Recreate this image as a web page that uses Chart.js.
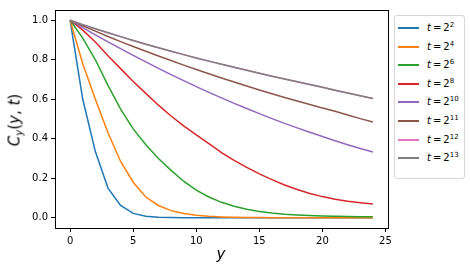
<!DOCTYPE html>
<html>
<head>
<meta charset="utf-8">
<script src="https://cdn.jsdelivr.net/npm/chart.js@4.4.0/dist/chart.umd.min.js"></script>
<style>
  html, body { margin: 0; padding: 0; background: #fff; }
  #wrap { position: relative; width: 470px; height: 272px; font-family: "DejaVu Sans", sans-serif; color: #000; }
  #chart { position: absolute; left: 0; top: 0; }
  #ytitle { position: absolute; left: 15px; top: 120px; transform: translate(-50%, -50%) rotate(-90deg); font-size: 15px; white-space: nowrap; }
  #ytitle sub { font-size: 10px; vertical-align: -3px; }
  #xtitle { position: absolute; left: 221px; top: 254px; transform: translate(-50%, -50%); font-size: 15px; font-style: italic; }
  #legend { position: absolute; left: 394px; top: 15px; width: 71px; height: 164px; border: 1px solid #d6d6d6; border-radius: 3px; background: #fff; box-sizing: border-box; }
  .swatch { position: absolute; left: 3px; width: 21px; height: 2px; }
  .label { position: absolute; left: 32px; font-size: 10px; line-height: 12px; white-space: nowrap; }
  .label sup { font-size: 7px; vertical-align: 4px; line-height: 0; }
</style>
</head>
<body>
<div id="wrap">
  <canvas id="chart" width="470" height="272"></canvas>
  <div id="ytitle"><i>C</i><sub><i>y</i></sub>(<i>y</i>, <i>t</i>)</div>
  <div id="xtitle">y</div>
  <div id="legend"></div>
</div>
<script>
// y positions along the x axis
const yPos = [0, 1, 2, 3, 4, 5, 6, 7, 8, 9, 10, 11, 12, 13, 14, 15, 16, 17, 18, 19, 20, 21, 22, 23, 24];

// C_y(y, t), one array per t
const curveT2  = [1, 0.60, 0.335, 0.150, 0.062, 0.022, 0.008, 0.003, 0.001, 0, 0, 0, 0, 0, 0, 0, 0, 0, 0, 0, 0, 0, 0, 0, 0];
const curveT4  = [1, 0.78, 0.60, 0.43, 0.285, 0.18, 0.105, 0.062, 0.036, 0.021, 0.012, 0.007, 0.004, 0.002, 0.001, 0.001, 0, 0, 0, 0, 0, 0, 0, 0, 0];
const curveT6  = [1, 0.91, 0.80, 0.67, 0.55, 0.45, 0.37, 0.30, 0.24, 0.185, 0.14, 0.105, 0.078, 0.058, 0.043, 0.032, 0.024, 0.018, 0.014, 0.011, 0.009, 0.007, 0.006, 0.005, 0.005];
const curveT8  = [1, 0.95, 0.89, 0.82, 0.755, 0.69, 0.63, 0.57, 0.515, 0.465, 0.42, 0.375, 0.33, 0.29, 0.255, 0.222, 0.193, 0.166, 0.143, 0.123, 0.107, 0.094, 0.083, 0.076, 0.07];
const curveT10 = [1, 0.963, 0.926, 0.891, 0.856, 0.822, 0.789, 0.756, 0.725, 0.694, 0.664, 0.635, 0.607, 0.579, 0.553, 0.527, 0.502, 0.478, 0.455, 0.433, 0.411, 0.39, 0.37, 0.351, 0.333];
const curveT11 = [1, 0.972, 0.945, 0.918, 0.892, 0.867, 0.843, 0.819, 0.796, 0.773, 0.751, 0.729, 0.708, 0.687, 0.667, 0.647, 0.628, 0.609, 0.591, 0.573, 0.556, 0.539, 0.52, 0.502, 0.485];
const curveT12 = [1, 0.978, 0.957, 0.937, 0.917, 0.898, 0.879, 0.861, 0.843, 0.826, 0.809, 0.793, 0.777, 0.762, 0.747, 0.732, 0.717, 0.703, 0.689, 0.675, 0.661, 0.646, 0.632, 0.618, 0.604];
const curveT13 = [1, 0.978, 0.957, 0.937, 0.917, 0.898, 0.879, 0.861, 0.843, 0.826, 0.809, 0.793, 0.777, 0.762, 0.747, 0.732, 0.717, 0.703, 0.689, 0.675, 0.661, 0.646, 0.632, 0.618, 0.604];

const tExponents = [2, 4, 6, 8, 10, 11, 12, 13];
const curves = [curveT2, curveT4, curveT6, curveT8, curveT10, curveT11, curveT12, curveT13];
const colors = ['#1f77b4', '#ff7f0e', '#2ca02c', '#d62728', '#9467bd', '#8c564b', '#e377c2', '#7f7f7f'];

// tick labels
const xTicks = [0, 5, 10, 15, 20, 25];
const yTicks = [0.0, 0.2, 0.4, 0.6, 0.8, 1.0];

// later series drawn on top, as in matplotlib
const datasets = curves.map((c, i) => ({
    label: 't = 2^' + tExponents[i],
    data: c.map((v, j) => ({ x: yPos[j], y: v })),
    borderColor: colors[i],
    borderWidth: 1.5,
    pointRadius: 0,
    fill: false,
    tension: 0,
    order: curves.length - i
}));

// box around the plot area, like matplotlib spines
const frame = {
    id: 'frame',
    afterDraw(chart) {
        const a = chart.chartArea;
        const ctx = chart.ctx;
        ctx.save();
        ctx.strokeStyle = '#000';
        ctx.lineWidth = 1;
        ctx.strokeRect(Math.round(a.left) + 0.5, Math.round(a.top) + 0.5, Math.round(a.right - a.left), Math.round(a.bottom - a.top));
        ctx.restore();
    }
};

const tickFont = { family: 'DejaVu Sans', size: 10 };

new Chart(document.getElementById('chart'), {
    type: 'line',
    data: { datasets: datasets },
    options: {
        responsive: false,
        animation: false,
        devicePixelRatio: 1,
        layout: { padding: { left: 0, right: 82, top: 10, bottom: 0 } },
        plugins: { legend: { display: false }, tooltip: { enabled: false } },
        scales: {
            x: {
                type: 'linear',
                min: -1.2,
                max: 25.2,
                afterBuildTicks: s => { s.ticks = xTicks.map(v => ({ value: v })); },
                afterFit: s => { s.height = 44; },
                grid: { drawOnChartArea: false, drawTicks: true, tickLength: 4, tickColor: '#000' },
                border: { display: false },
                ticks: { color: '#000', font: tickFont, padding: 3, maxRotation: 0, callback: v => String(v) }
            },
            y: {
                type: 'linear',
                min: -0.052,
                max: 1.052,
                afterBuildTicks: s => { s.ticks = yTicks.map(v => ({ value: v })); },
                afterFit: s => { s.width = 55; },
                grid: { drawOnChartArea: false, drawTicks: true, tickLength: 4, tickColor: '#000' },
                border: { display: false },
                ticks: { color: '#000', font: tickFont, padding: 3, callback: v => v.toFixed(1) }
            }
        }
    },
    plugins: [frame]
});

// legend built from the same series list
const legend = document.getElementById('legend');
tExponents.forEach((e, i) => {
    const cy = Math.round(12.2 + 18.55 * i);
    const sw = document.createElement('div');
    sw.className = 'swatch';
    sw.style.top = (cy - 1) + 'px';
    sw.style.background = colors[i];
    legend.appendChild(sw);
    const lb = document.createElement('div');
    lb.className = 'label';
    lb.style.top = (cy - 6) + 'px';
    lb.innerHTML = '<i>t</i>&thinsp;=&thinsp;2<sup>' + e + '</sup>';
    legend.appendChild(lb);
});
</script>
</body>
</html>
